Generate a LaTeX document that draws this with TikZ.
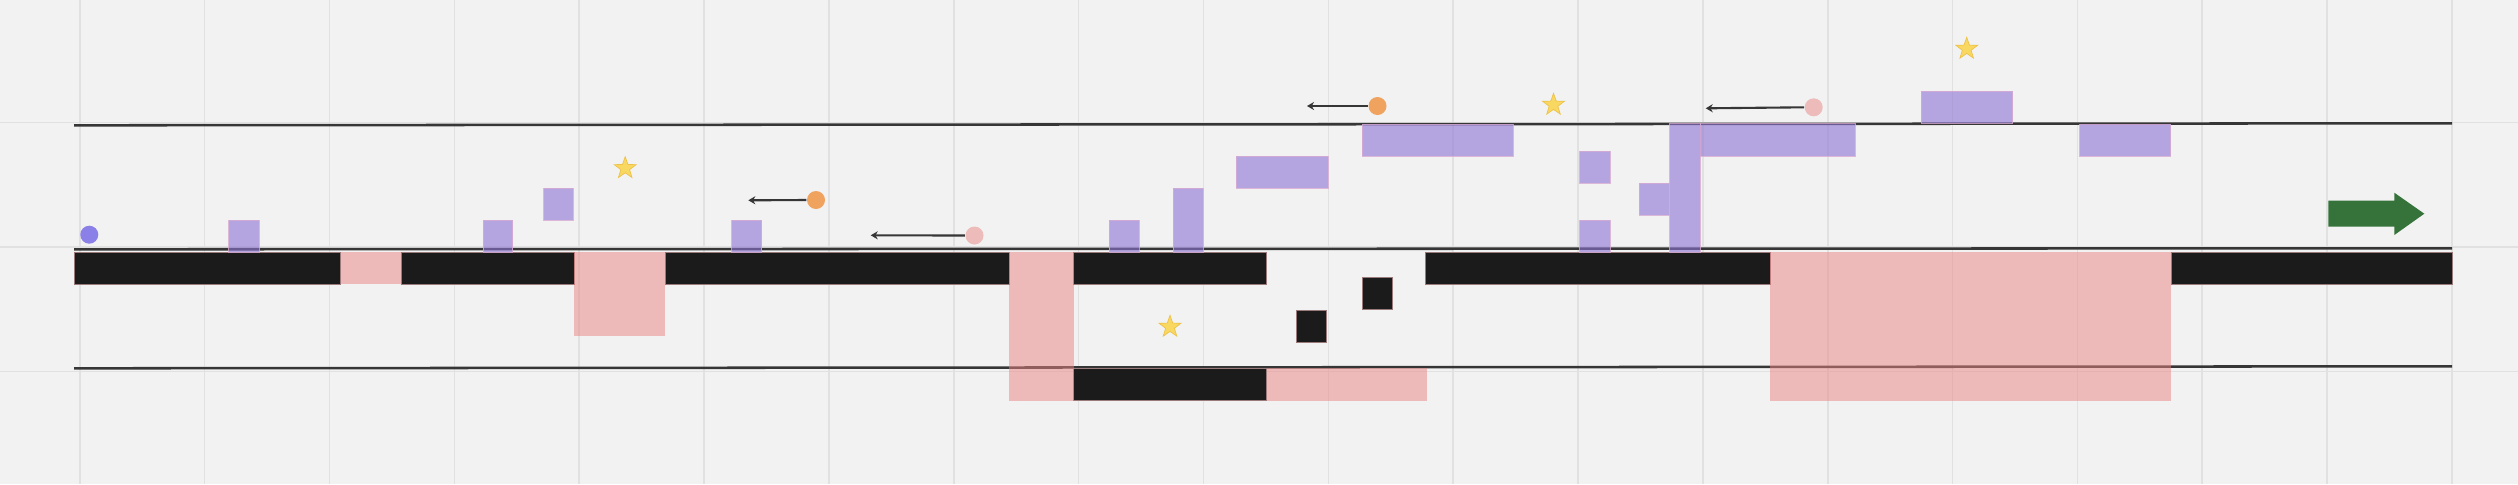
\documentclass[tikz,border=0pt]{standalone}
\usetikzlibrary{arrows.meta,shapes.geometric}
\definecolor{bgc}{HTML}{F2F2F2}
\definecolor{gridc}{HTML}{E1E1E1}
\definecolor{linec}{HTML}{363636}
\definecolor{blk}{HTML}{1B1B1B}
\definecolor{blkedge}{HTML}{9A7A7A}
\definecolor{pinkf}{RGB}{234,130,130}
\definecolor{purf}{RGB}{140,115,212}
\definecolor{puredge}{RGB}{215,170,210}
\definecolor{bluec}{HTML}{8B80E8}
\definecolor{orangec}{HTML}{F0A35E}
\definecolor{pinkc}{HTML}{EEBBBB}
\definecolor{starc}{HTML}{F9D862}
\definecolor{staredge}{HTML}{EDC24A}
\definecolor{greenc}{HTML}{36733A}
\begin{document}
\begin{tikzpicture}[x=0.01cm,y=-0.01cm,
  gridline/.style={draw=gridc, line width=0.45pt},
  railline/.style={draw=linec, line width=0.72pt},
  ground/.style={fill=blk, draw=blkedge, line width=0.15pt},
  hazard/.style={fill=pinkf, fill opacity=0.5, draw=none},
  block/.style={fill=purf, fill opacity=0.6, draw=puredge, draw opacity=0.8, line width=0.2pt},
  mover/.style={circle, inner sep=0pt, minimum size=0.18cm, draw=none},
  movearrow/.style={draw=linec, line width=0.6pt, -{Stealth[length=2pt,width=2.3pt]}},
  pickup/.style={star, star points=5, star point ratio=2.5, inner sep=0pt, minimum size=0.23cm, fill=starc, draw=staredge, line width=0.2pt}
]
% background
\fill[bgc] (0,0) rectangle (2518,484);
\useasboundingbox (0,0) rectangle (2518,484);
% grid
\foreach \k in {0,...,19} \draw[gridline] ({79.8+124.85*\k},0) -- ({79.8+124.85*\k},484);
\foreach \yy in {122.5,247,371.5} \draw[gridline] (0,\yy) -- (2518,\yy);
% rails
\draw[railline] (74,125.3) -- (2452,123.3);
\draw[railline] (74,249.3) -- (2452,248.3);
\draw[railline] (74,368.3) -- (2452,366.3);
% ground
\draw[ground] (74,252) rectangle (340.7,284);
\draw[ground] (401.2,252) rectangle (573.8,284);
\draw[ground] (664.8,252) rectangle (1009.3,284);
\draw[ground] (1073.6,252) rectangle (1266.7,284);
\draw[ground] (1425.7,252) rectangle (1770,284);
\draw[ground] (2171.3,252) rectangle (2452,284);
\draw[ground] (1073.6,368.3) rectangle (1266.7,400.5);
\draw[ground] (1296,310.3) rectangle (1326,342.3);
\draw[ground] (1362.7,277.7) rectangle (1392.7,309.7);
% hazards
\fill[hazard] (340.7,252) rectangle (401.2,284);
\fill[hazard] (573.8,252) rectangle (664.8,336);
\fill[hazard] (1009.3,252) rectangle (1073.6,400.7);
\fill[hazard] (1266.7,368.3) rectangle (1426.7,400.7);
\fill[hazard] (1770,252) rectangle (2171.3,400.7);
% blocks
\draw[block] (228.7,220) rectangle (259,252);
\draw[block] (483.2,220) rectangle (512.7,252);
\draw[block] (543.7,188) rectangle (573.2,220);
\draw[block] (731.5,220) rectangle (761.5,252);
\draw[block] (1109,220) rectangle (1139,252);
\draw[block] (1173.2,188) rectangle (1203.2,252);
\draw[block] (1236.4,156) rectangle (1328,188);
\draw[block] (1362.3,124) rectangle (1513.4,156);
\draw[block] (1579.5,151.3) rectangle (1610,183);
\draw[block] (1579.5,220) rectangle (1610,252);
\draw[block] (1639,183.3) rectangle (1669.5,215);
\draw[block] (1669.5,123.5) rectangle (1700,252);
\draw[block] (1700,123.5) rectangle (1855.2,156);
\draw[block] (1921.3,91) rectangle (2012.5,123.3);
\draw[block] (2079.6,124) rectangle (2170.7,156);
% movers
\node[mover, fill=bluec] (c1) at (89.3,234.7) {};
\node[mover, fill=orangec] (c2) at (816,200) {};
\node[mover, fill=pinkc] (c3) at (974.5,235.5) {};
\node[mover, fill=orangec] (c4) at (1377.5,106) {};
\node[mover, fill=pinkc] (c5) at (1813.7,107.3) {};
\coordinate (t2) at (748.3,200.3);
\coordinate (t3) at (870.7,235.3);
\coordinate (t4) at (1307,106);
\coordinate (t5) at (1705.7,108.3);
\draw[movearrow] (c2.west) -- (t2);
\draw[movearrow] (c3.west) -- (t3);
\draw[movearrow] (c4.west) -- (t4);
\draw[movearrow] (c5.west) -- (t5);
% stars
\node[pickup] (s1) at (625.2,168.2) {};
\node[pickup] (s2) at (1553.5,104.8) {};
\node[pickup] (s3) at (1170,326.8) {};
\node[pickup] (s4) at (1966.7,48.8) {};
% exit arrow
\fill[greenc] (2328.3,200.7) -- (2394.3,200.7) -- (2394.3,192.7) -- (2424.3,213.7)
  -- (2394.3,235) -- (2394.3,226.7) -- (2328.3,226.7) -- cycle;
\end{tikzpicture}
\end{document}
